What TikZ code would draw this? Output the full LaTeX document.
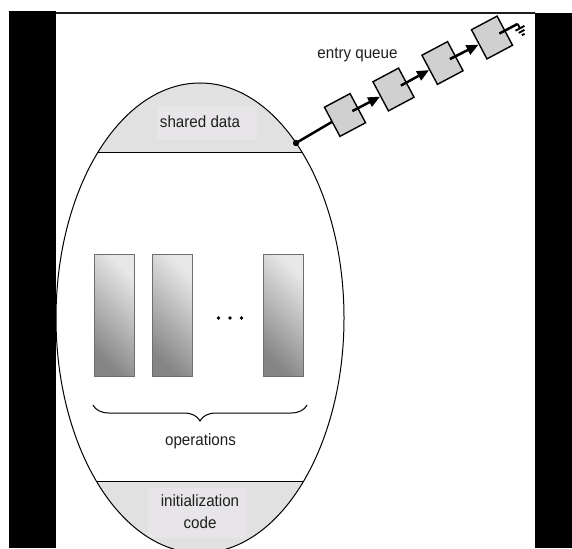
\documentclass[tikz,border=0pt]{standalone}
\usepackage{fontspec}
\setmainfont[FakeStretch=0.93]{Liberation Sans}
\usetikzlibrary{arrows.meta,decorations.pathreplacing,calc,shadings}
\definecolor{capgray}{HTML}{E1E1E1}
\definecolor{txtbox}{HTML}{E7E5E8}
\definecolor{qgray}{HTML}{D0D0D0}
\definecolor{ink}{HTML}{1E1E1E}
\definecolor{opl}{HTML}{E8E8E8}
\definecolor{opd}{HTML}{858585}
\definecolor{opb}{HTML}{6E6E6E}
\begin{document}
\begin{tikzpicture}[x=1pt,y=-1pt,
  lbl/.style={font=\fontsize{16.3}{22}\selectfont, text=ink, inner sep=0pt, align=center},
  qbox/.style={draw=black, line width=1.4pt, fill=qgray, minimum width=29pt, minimum height=33pt, rotate=28, inner sep=0pt},
  link/.style={line width=2.5pt, draw=black},
  ptr/.style={link, -{Triangle[length=12pt,width=10pt]}},
  opbox/.style={draw=opb, line width=0.7pt, minimum width=40pt, minimum height=122pt, inner sep=0pt,
    shading=axis, top color=opl, bottom color=opd, shading angle=-45},
  dotmark/.style={fill=black, circle, inner sep=0pt, minimum size=3.6pt}]
\useasboundingbox (0,0) rectangle (572,548);
% monitor body
\begin{scope}
  \clip (200,318) ellipse [x radius=144, y radius=235];
  \fill[capgray] (0,0) rectangle (572,152);
  \fill[capgray] (0,481) rectangle (572,600);
  \fill[txtbox] (157,106) rectangle (257,140);
  \fill[txtbox] (148,488) rectangle (247,538);
  \draw[line width=0.9pt] (0,152) -- (572,152);
  \draw[line width=0.9pt] (0,481) -- (572,481);
\end{scope}
\draw[line width=1pt] (200,318) ellipse [x radius=144, y radius=235];
\node[lbl, anchor=base] (shared) at (200,127.5) {shared data};
\node[lbl, anchor=base] (ops) at (200.5,445.5) {operations};
\node[lbl, anchor=base] (init) at (200,528.5) {initialization\\code};
% operations
\node[opbox] (op1) at (114,315) {};
\node[opbox] (op2) at (172.5,315) {};
\node[opbox] (op3) at (283,315) {};
\node[dotmark] (d1) at (218.5,318) {};
\node[dotmark] (d2) at (230,318) {};
\node[dotmark] (d3) at (241.5,318) {};
\draw[line width=1pt, decorate, decoration={brace, mirror, amplitude=16pt}] (93,405) -- (307,405);
% entry queue
\node[lbl, anchor=base] (eq) at (357.5,58.5) {entry queue};
\coordinate (att) at (296,143);
\node[qbox] (q1) at (345,115) {};
\node[qbox] (q2) at (393.5,89.5) {};
\node[qbox] (q3) at (442.5,63) {};
\node[qbox] (q4) at (492,37.5) {};
\draw[link] (att) -- (q1.west);
\fill (att) circle (3.2pt);
\draw[ptr] ($(q1.center)!0.55!(q1.east)$) -- (q2.west);
\draw[ptr] ($(q2.center)!0.55!(q2.east)$) -- (q3.west);
\draw[ptr] ($(q3.center)!0.55!(q3.east)$) -- (q4.west);
\coordinate (gend) at ($(q4.center)!29pt!(q4.east)$);
\draw[link] ($(q4.center)!0.55!(q4.east)$) -- (gend);
\begin{scope}[shift={(gend)}, rotate=28, line width=1.9pt]
  \draw (0,0) -- (0,5);
  \draw (-5,5) -- (5,5);
  \draw (-3.2,8.5) -- (3.2,8.5);
  \draw (-1.5,12) -- (1.5,12);
\end{scope}
% black frame
\fill[black] (9,11) rectangle (56,548);
\fill[black] (535,13) rectangle (572,548);
\draw[line width=1.4pt, ink] (56,13) -- (535,13);
\end{tikzpicture}
\end{document}
